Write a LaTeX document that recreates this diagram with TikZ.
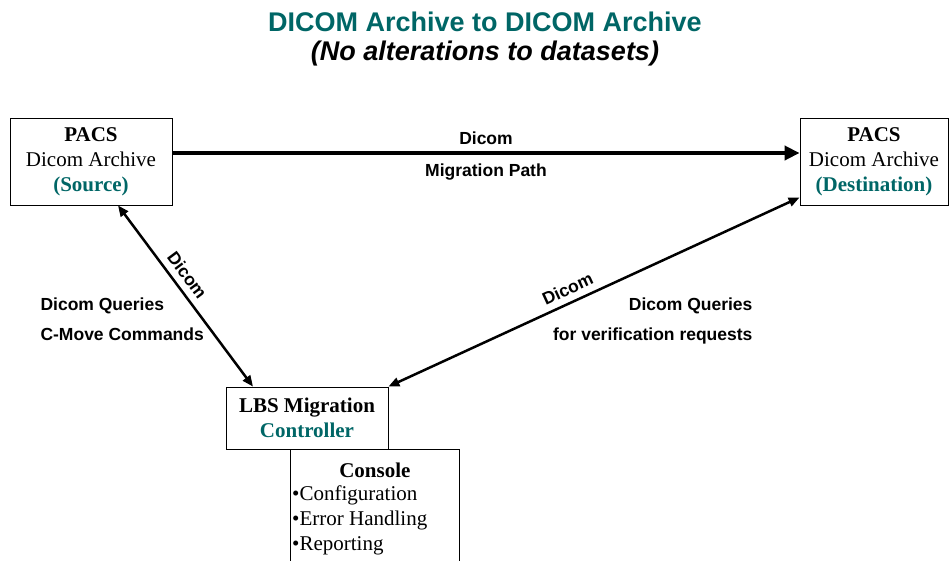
\documentclass[tikz,border=0pt]{standalone}
\usepackage{fontspec}
\setmainfont{Liberation Serif}
\setsansfont{Liberation Sans}
\usetikzlibrary{positioning}
\usetikzlibrary{calc}
\usetikzlibrary{arrows.meta}
\definecolor{dcmteal}{RGB}{0,102,102}

\begin{document}
\begin{tikzpicture}[x=1pt, y=1pt, >=Triangle, font=\fontsize{21}{25}\selectfont]
    \tikzstyle{box}=[draw=black, rectangle, line width=0.8pt, inner sep=0pt, align=center]
    \tikzstyle{lbl}=[font=\sffamily\bfseries\fontsize{17.5}{30}\selectfont]
    \tikzstyle{link}=[line width=2.5pt, {Triangle[length=11pt,width=9pt]}-{Triangle[length=11pt,width=9pt]}]
    \tikzstyle{mainpath}=[line width=4.5pt, -{Triangle[length=15pt,width=14pt]}]

    \useasboundingbox (0,0) rectangle (951,-560);

    % heading
    \node[font=\sffamily\bfseries\fontsize{27}{31}\selectfont, text=dcmteal] (title) at (485,-22) {DICOM Archive to DICOM Archive};
    \node[font=\sffamily\bfseries\itshape\fontsize{27}{31}\selectfont] (subtitle) at (485,-54) {(No alterations to datasets)};

    % archives and controller
    \node[box, minimum width=162, minimum height=87] (src) at (91,-161.5) {\textbf{PACS}\\Dicom Archive\\\textcolor{dcmteal}{\textbf{(Source)}}};
    \node[box, minimum width=148, minimum height=87] (dst) at (874,-161.5) {\textbf{PACS}\\Dicom Archive\\\textcolor{dcmteal}{\textbf{(Destination)}}};
    \node[box, minimum width=162, minimum height=62] (ctrl) at (307,-418) {\textbf{LBS Migration}\\\textcolor{dcmteal}{\textbf{Controller}}};
    \node[box, minimum width=169, minimum height=115, anchor=north west] (console) at (290,-449) {};
    \node (contitle) at ([yshift=-21]console.north) {\textbf{Console}};
    \node[anchor=west, align=left, inner sep=0pt] (conlist) at ([xshift=2, yshift=-71]console.north west) {•Configuration\\•Error Handling\\•Reporting};

    % connections
    \draw[mainpath] ([yshift=8.5]src.east) -- node[lbl, above=3pt] {Dicom} node[lbl, below=5pt] {Migration Path} ([yshift=8.5]dst.west);
    \draw[link] ([xshift=27]src.south) -- node[lbl, sloped, above=3pt, pos=0.43] {Dicom} ([xshift=-54]ctrl.north);
    \draw[link] (ctrl.north east) -- node[lbl, sloped, above=3pt, pos=0.45] {Dicom} ([yshift=8]dst.south west);

    \node[lbl, align=left, anchor=west] (srcq) at (37,-319) {Dicom Queries\\C-Move Commands};
    \node[lbl, align=right, anchor=east] (dstq) at (756,-321) {Dicom Queries\\for verification requests};
\end{tikzpicture}
\end{document}
